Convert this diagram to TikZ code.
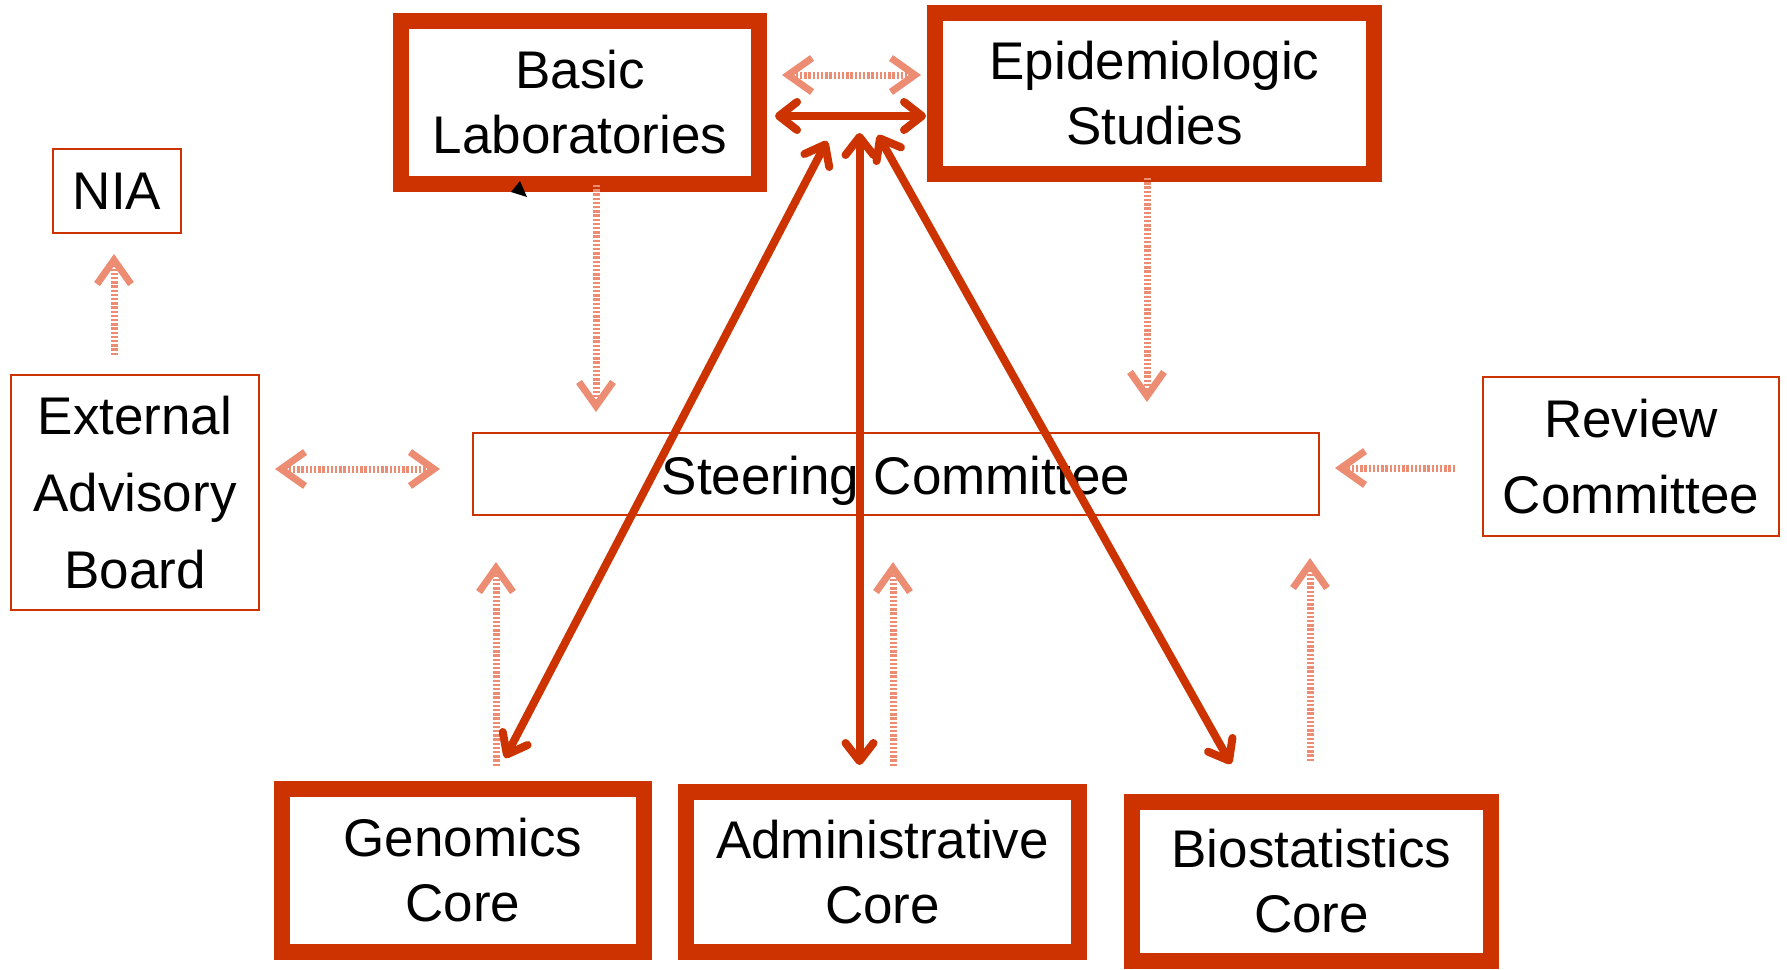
\documentclass[tikz,border=0pt]{standalone}
\usepackage{fontspec}
\setmainfont{Liberation Sans}
\usetikzlibrary{arrows.meta}
\definecolor{rc}{RGB}{204,51,0}
\definecolor{dc}{RGB}{236,140,115}
\begin{document}
\begin{tikzpicture}[x=0.5pt,y=-0.5pt,
  txt/.style={align=center, font=\fontsize{26.5}{32.5}\selectfont},
  thickbox/.style={txt, draw=rc, line width=8pt, inner sep=0pt},
  thinbox/.style={txt, draw=rc, line width=1pt, inner sep=0pt},
  redarrow/.style={draw=rc, line width=4pt, line cap=round, {Straight Barb[length=9pt,width=14pt,round]}-{Straight Barb[length=9pt,width=14pt,round]}},
  dotarrow/.style={draw=dc, line width=3.5pt, dash pattern=on 1.2pt off 0.9pt, -{Straight Barb[length=12pt,width=17pt]}},
  ddotarrow/.style={draw=dc, line width=3.5pt, dash pattern=on 1.2pt off 0.9pt, {Straight Barb[length=12pt,width=17pt]}-{Straight Barb[length=12pt,width=17pt]}}
]
\useasboundingbox (0,0) rectangle (1787,969);

% boxes
\node[thickbox, minimum width=179pt, minimum height=81.5pt] (basic) at (580,102.5) {Basic\\Laboratories};
\node[thickbox, minimum width=219.5pt, minimum height=80.5pt] (epi) at (1154.5,93.5) {Epidemiologic\\Studies};
\node[thickbox, minimum width=181pt, minimum height=81.5pt] (gen) at (463,870.5) {Genomics\\Core};
\node[thickbox, minimum width=196.5pt, minimum height=80pt] (adm) at (882.5,872) {Administrative\\Core};
\node[thickbox, minimum width=179.5pt, minimum height=79.5pt] (bio) at (1311.5,881.5) {Biostatistics\\Core};

\node[thinbox, minimum width=64pt, minimum height=42pt] (nia) at (117,191) {NIA};
\node[thinbox, minimum width=124pt, minimum height=117.5pt, font=\fontsize{26.5}{38.5}\selectfont] (eab) at (135,492.5) {External\\Advisory\\Board};
\node[thinbox, minimum width=423pt, minimum height=41pt] (steer) at (896,474) {\raisebox{-3.5pt}[\height][\depth]{Steering Committee}};
\node[thinbox, minimum width=148pt, minimum height=79.5pt, font=\fontsize{26.5}{38}\selectfont] (rev) at (1631,456.5) {Review\\Committee};

% connector end points
\coordinate (hL) at (775,116);
\coordinate (hR) at (926,116);
\coordinate (dLt) at (827,141);
\coordinate (dLb) at (505,758);
\coordinate (vT) at (859.5,133);
\coordinate (vB) at (859.5,765);
\coordinate (dRt) at (878,135);
\coordinate (dRb) at (1231,764);

\coordinate (tL) at (782,75);
\coordinate (tR) at (921,75);
\coordinate (bs) at (596,185);
\coordinate (be) at (596,412);
\coordinate (es) at (1147,178);
\coordinate (ee) at (1147,402);
\coordinate (ns) at (114,355);
\coordinate (ne) at (114,254);
\coordinate (xL) at (275,469);
\coordinate (xR) at (440,469);
\coordinate (rs) at (1455,468);
\coordinate (re) at (1335,468);
\coordinate (gs) at (496,766);
\coordinate (ge) at (496,562);
\coordinate (as) at (893,766);
\coordinate (ae) at (893,562);
\coordinate (bis) at (1310,761);
\coordinate (bie) at (1310,558);

% dotted arrows
\draw[ddotarrow] (tL) -- (tR);
\draw[dotarrow] (bs) -- (be);
\draw[dotarrow] (es) -- (ee);
\draw[dotarrow] (ns) -- (ne);
\draw[ddotarrow] (xL) -- (xR);
\draw[dotarrow] (rs) -- (re);
\draw[dotarrow] (gs) -- (ge);
\draw[dotarrow] (as) -- (ae);
\draw[dotarrow] (bis) -- (bie);

% solid arrows
\draw[redarrow] (hL) -- (hR);
\draw[redarrow] (dLt) -- (dLb);
\draw[redarrow] (vT) -- (vB);
\draw[redarrow] (dRt) -- (dRb);

% small black pointer
\fill (520,181) -- (511,192) -- (527,197) -- cycle;
\end{tikzpicture}
\end{document}
